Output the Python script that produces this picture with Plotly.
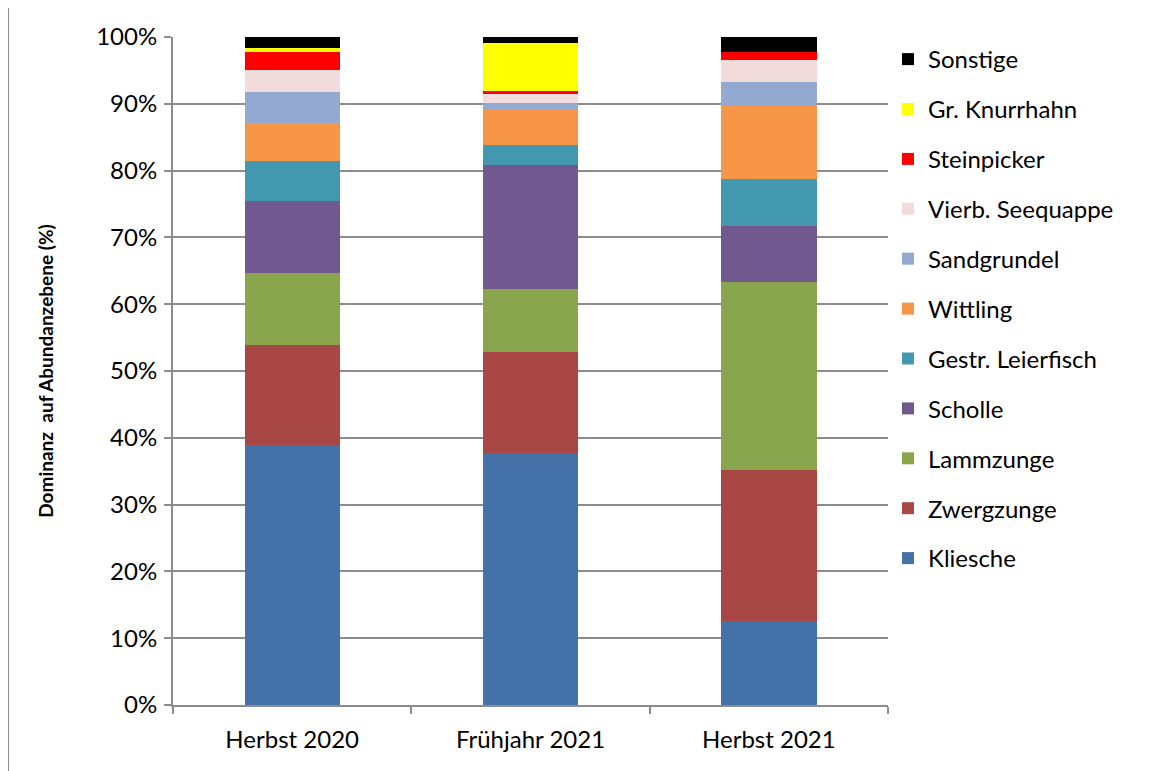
import plotly.graph_objects as go

categories = ["Herbst 2020", "Frühjahr 2021", "Herbst 2021"]

kliesche = [38.9, 37.7, 12.6]
zwergzunge = [15.0, 15.1, 22.6]
lammzunge = [10.8, 9.5, 28.1]
scholle = [10.7, 18.5, 8.4]
leierfisch = [6.0, 3.0, 7.0]
wittling = [5.8, 5.4, 11.1]
sandgrundel = [4.5, 0.9, 3.4]
seequappe = [3.4, 1.4, 3.4]
steinpicker = [2.7, 0.4, 1.2]
knurrhahn = [0.5, 7.2, 0.0]
sonstige = [1.7, 0.9, 2.2]

series = [
    ("Kliesche", kliesche, "#4472A8"),
    ("Zwergzunge", zwergzunge, "#A94744"),
    ("Lammzunge", lammzunge, "#89A54E"),
    ("Scholle", scholle, "#71588F"),
    ("Gestr. Leierfisch", leierfisch, "#4198AF"),
    ("Wittling", wittling, "#F79646"),
    ("Sandgrundel", sandgrundel, "#93A9CF"),
    ("Vierb. Seequappe", seequappe, "#F2DCDB"),
    ("Steinpicker", steinpicker, "#FF0000"),
    ("Gr. Knurrhahn", knurrhahn, "#FFFF00"),
    ("Sonstige", sonstige, "#000000"),
]

fig = go.Figure()
n = len(series)
for i, (name, vals, col) in enumerate(series):
    fig.add_trace(go.Bar(
        x=categories, y=vals, name=name, legendgroup=name,
        legendrank=n - i,
        marker=dict(color=col, line=dict(width=0)),
    ))

font_family = "Lato, 'Open Sans', sans-serif"
fig.update_layout(
    barmode="stack",
    bargap=0.6,
    width=1168, height=763,
    margin=dict(l=165, r=288, t=29, b=66),
    paper_bgcolor="white",
    plot_bgcolor="white",
    font=dict(family=font_family, size=24, color="#000000"),
    legend=dict(
        traceorder="grouped",
        x=1.0, xanchor="left",
        y=1.0, yanchor="top",
        font=dict(size=24, family=font_family),
        tracegroupgap=15.7,
        itemwidth=30,
    ),
    yaxis=dict(
        range=[0, 100],
        tickvals=[0, 10, 20, 30, 40, 50, 60, 70, 80, 90, 100],
        ticktext=[f"{v}%" for v in range(0, 101, 10)],
        showgrid=True, gridcolor="#8C8C8C", gridwidth=2,
        showline=True, linecolor="#8C8C8C", linewidth=2,
        ticks="outside", ticklen=7, tickcolor="#8C8C8C", tickwidth=2,
        ticklabelstandoff=2,
        zeroline=False,
        title=dict(text="<b>Dominanz  auf Abundanzebene (%)</b>", font=dict(size=19), standoff=38),
    ),
    xaxis=dict(
        showline=True, linecolor="#8C8C8C", linewidth=2,
        ticks="outside", ticklen=7, tickcolor="#8C8C8C", tickwidth=2,
        tickson="boundaries",
        ticklabelstandoff=12,
        showgrid=False,
    ),
    shapes=[
        dict(type="line", xref="paper", yref="paper", x0=-0.2308, x1=-0.2308, y0=-0.2, y1=1.0449,
             line=dict(color="#8C8C8C", width=2)),
        dict(type="line", xref="paper", yref="paper", x0=-0.2308, x1=1.5, y0=1.0449, y1=1.0449,
             line=dict(color="#8C8C8C", width=2)),
    ],
)

fig.write_html("out.html")
